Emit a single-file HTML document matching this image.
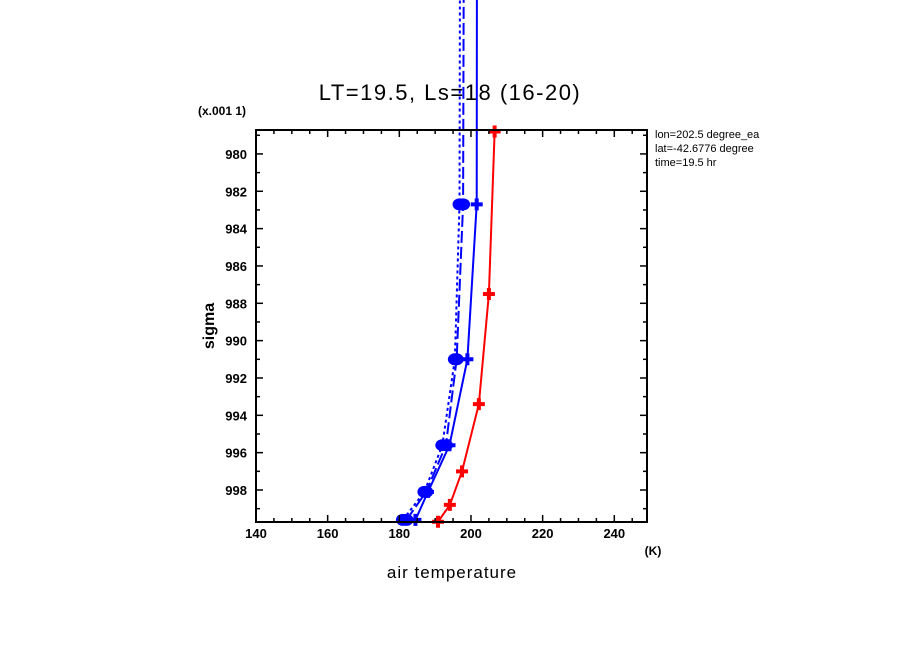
<!DOCTYPE html>
<html><head><meta charset="utf-8"><style>
body{margin:0;background:#fff}
svg{display:block;font-family:"Liberation Sans",sans-serif}
</style></head><body>
<svg id="chart" width="904" height="654">
<rect width="904" height="654" fill="#fff"/>
<g id="marks"></g>
<rect x="256" y="130" width="391" height="392" fill="none" stroke="#000" stroke-width="2"/>
<g id="axes"></g>
<text x="450" y="100" font-size="22" letter-spacing="1.5" text-anchor="middle">LT=19.5, Ls=18 (16-20)</text>
<text x="222" y="115" font-size="12" font-weight="bold" text-anchor="middle">(x.001 1)</text>
<text x="0" y="0" font-size="16" font-weight="bold" text-anchor="middle" transform="translate(214,326) rotate(-90)">sigma</text>
<text x="452" y="578" font-size="17" letter-spacing="1" text-anchor="middle">air temperature</text>
<text x="653" y="555" font-size="12" font-weight="bold" text-anchor="middle">(K)</text>
<g font-size="11">
<text x="655" y="138">lon=202.5 degree_ea</text>
<text x="655" y="152">lat=-42.6776 degree</text>
<text x="655" y="166">time=19.5 hr</text>
</g>
<rect x="780" y="125" width="124" height="50" fill="#fff"/>
</svg>
<script>
const xTicks=[140,160,180,200,220,240];
const yTicks=[980,982,984,986,988,990,992,994,996,998];
const sigmaA=[999.6,998.1,995.6,991.0,982.7,940];
const tempA=[181,187,192,195.5,196.8,197.2];
const sigmaB=[999.6,998.1,995.6,991.0,982.7,940];
const tempB=[182,187.5,193,196,197.8,198.4];
const sigmaC=[999.6,998.1,995.6,991.0,982.7,940];
const tempC=[184.5,188,194,199,201.6,201.8];
const sigmaR=[999.7,998.8,997.0,993.4,987.5,978.8];
const tempR=[190.8,194.1,197.5,202.2,205,206.6];

const NS='http://www.w3.org/2000/svg';
function X(t){return 256+(t-140)*3.583;}
function Y(s){return 490-(998-s)*18.67;}
function mk(tag,attrs,parent){const e=document.createElementNS(NS,tag);for(const k in attrs)e.setAttribute(k,attrs[k]);parent.appendChild(e);return e;}
const axes=document.getElementById('axes');
const marks=document.getElementById('marks');
for(let t=140;t<=249;t+=5){
  const major=(t%20===0);const len=major?7:4;
  let l=mk('line',{x1:X(t),x2:X(t),y1:522,y2:522-len,stroke:'#000','stroke-width':1.5},axes);
  
  
  l=mk('line',{x1:X(t),x2:X(t),y1:130,y2:130+len,stroke:'#000','stroke-width':1.5},axes);
  
  
}
xTicks.forEach(t=>{
  const e=mk('text',{x:X(t),y:538,'font-size':13,'font-weight':'bold','text-anchor':'middle'},axes);
  e.textContent=t;
  
  
});
for(let s=979;s<=999;s+=1){
  const major=(s%2===0);const len=major?7:4;
  let l=mk('line',{x1:256,x2:256+len,y1:Y(s),y2:Y(s),stroke:'#000','stroke-width':1.5},axes);
  
  
  l=mk('line',{x1:647,x2:647-len,y1:Y(s),y2:Y(s),stroke:'#000','stroke-width':1.5},axes);
  
  
}
yTicks.forEach(s=>{
  const e=mk('text',{x:247,y:Y(s)+5,'font-size':13,'font-weight':'bold','text-anchor':'end'},axes);
  e.textContent=s;
  
  
});
function series(name,sig,tmp,color,dash,marker){
  const pts=sig.map((s,i)=>X(tmp[i])+','+Y(s)).join(' ');
  const p=mk('polyline',{points:pts,fill:'none',stroke:color,'stroke-width':2,'stroke-dasharray':dash},marks);
  
  
  sig.forEach((s,i)=>{
    if(s<978)return;
    const cx=X(tmp[i]),cy=Y(s);
    let m;
    if(marker==='circle'){
      m=mk('ellipse',{cx:cx,cy:cy,rx:7,ry:6,fill:color},marks);
    }else{
      m=mk('path',{d:`M${cx-6},${cy}H${cx+6}M${cx},${cy-6}V${cy+6}`,stroke:color,'stroke-width':4},marks);
    }
    
    
  });
}
series('series-a',sigmaA,tempA,'#0000ff','3,3','circle');
series('series-b',sigmaB,tempB,'#0000ff','12,4','circle');
series('series-c',sigmaC,tempC,'#0000ff','none','cross');
series('series-red',sigmaR,tempR,'#ff0000','none','cross');
</script>
</body></html>
